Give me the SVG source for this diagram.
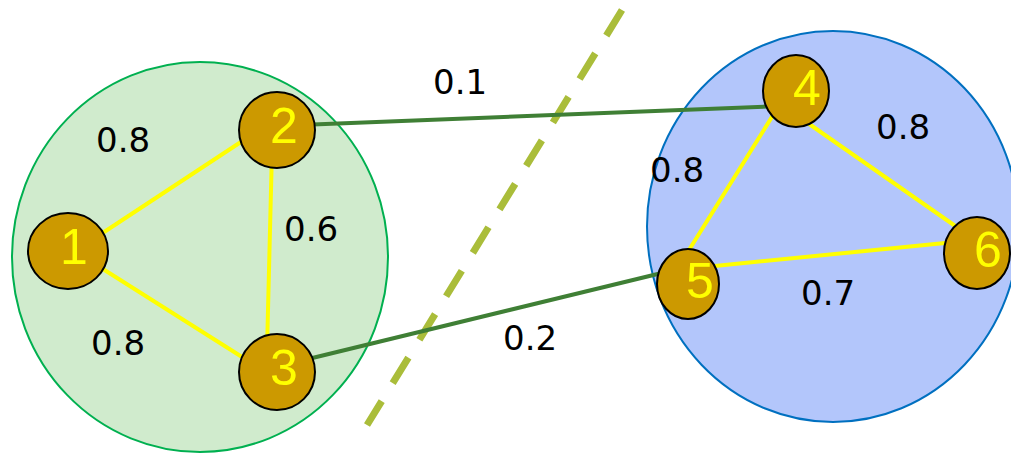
<svg xmlns="http://www.w3.org/2000/svg" width="1011" height="453" viewBox="0 0 1011 453">
<style>
.node{fill:#CC9900;stroke:#000;stroke-width:2}
.num{font-family:"Liberation Sans",Arial,sans-serif;font-size:50px;fill:#FFFF00;text-anchor:middle}
.lbl{font-family:"DejaVu Sans",Verdana,sans-serif;font-size:34px;fill:#000}
.intra{stroke:#FFFF00;stroke-width:4;fill:none}
.inter{stroke:#3F7F35;stroke-width:4;fill:none}
</style>
<rect width="1011" height="453" fill="#fff"/>
<g id="cluster-left"><ellipse cx="200" cy="257" rx="188" ry="195" fill="#D0EBCD" stroke="#00B050" stroke-width="2"/></g>
<g id="cluster-right"><ellipse cx="833" cy="226.5" rx="186" ry="195.5" fill="#B3C6FB" stroke="#0070C0" stroke-width="2"/></g>
<g id="cut"><line x1="622" y1="10" x2="367" y2="425" stroke="#AABD3A" stroke-width="7" stroke-dasharray="30 21"/></g>
<g id="connectors">
<line class="intra" x1="95" y1="238" x2="250" y2="136"/>
<line class="intra" x1="95" y1="264" x2="250" y2="362"/>
<line class="intra" x1="272" y1="150" x2="267" y2="350"/>
<line class="intra" x1="780" y1="104" x2="684" y2="258"/>
<line class="intra" x1="802" y1="119" x2="961" y2="230"/>
<line class="intra" x1="705" y1="267" x2="955" y2="242"/>
<line class="inter" x1="300" y1="125" x2="780" y2="106"/>
<line class="inter" x1="300" y1="361" x2="670" y2="271"/>
</g>
<g id="labels">
<text class="lbl" x="96" y="152">0.8</text>
<text class="lbl" x="284" y="241">0.6</text>
<text class="lbl" x="91" y="355">0.8</text>
<text class="lbl" x="433" y="94">0.1</text>
<text class="lbl" x="503" y="350">0.2</text>
<text class="lbl" x="876" y="139">0.8</text>
<text class="lbl" x="650" y="182">0.8</text>
<text class="lbl" x="801" y="305">0.7</text>
</g>
<g id="n1"><ellipse class="node" cx="68" cy="251" rx="40" ry="38"/><text class="num" x="74" y="264">1</text></g>
<g id="n2"><ellipse class="node" cx="277" cy="130" rx="38" ry="38"/><text class="num" x="284" y="143">2</text></g>
<g id="n3"><ellipse class="node" cx="277" cy="372" rx="38" ry="38"/><text class="num" x="284" y="385">3</text></g>
<g id="n4"><ellipse class="node" cx="796" cy="91" rx="33" ry="36"/><text class="num" x="807" y="105">4</text></g>
<g id="n5"><ellipse class="node" cx="688" cy="284" rx="31" ry="35"/><text class="num" x="700" y="298">5</text></g>
<g id="n6"><ellipse class="node" cx="977" cy="253" rx="33" ry="36"/><text class="num" x="988" y="267">6</text></g>
</svg>
